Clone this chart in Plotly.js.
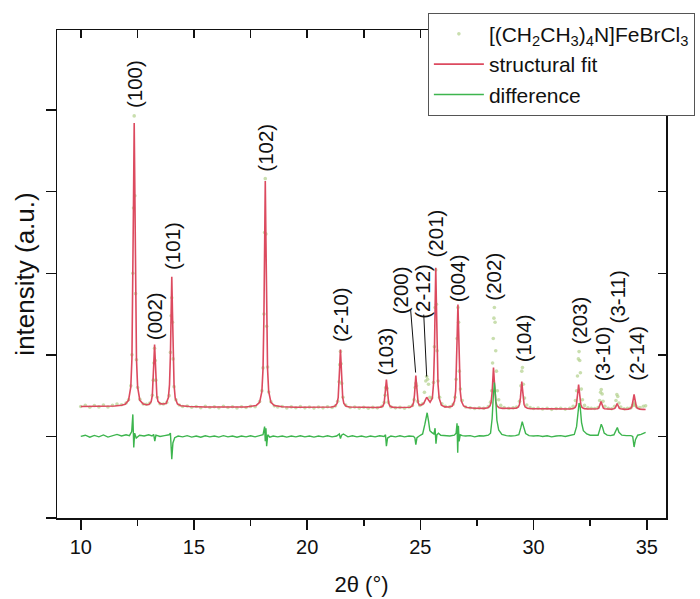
<!DOCTYPE html>
<html>
<head>
<meta charset="utf-8">
<script src="https://cdn.plot.ly/plotly-3.0.1.min.js"></script>
<style>html,body{margin:0;padding:0;background:#fff;}#chart{width:700px;height:599px;}</style>
</head>
<body>
<div id="chart"></div>
<script>
// ---- data (2theta in degrees, intensity in arbitrary units) ----
const seriesNames = ['[(CH<sub>2</sub>CH<sub>3</sub>)<sub>4</sub>N]FeBrCl<sub>3</sub>', 'structural fit', 'difference'];

const obsPoints = [
[10.0,367],[10.2,382],[10.4,357],[10.6,379],[10.8,362],[11.0,386],[11.2,361],[11.4,380],[11.6,398],[11.8,388],
[12.0,410],[12.11,450],[12.21,620],[12.26,1000],[12.3,2000],[12.33,2800],[12.36,3929],[12.39,2950],[12.42,1750],[12.46,940],[12.51,600],[12.61,455],[12.76,398],
[12.9,395],[13.05,410],[13.16,505],[13.2,690],[13.23,900],[13.26,1080],[13.29,930],[13.32,690],[13.38,480],[13.5,400],[13.65,398],
[13.8,415],[13.9,500],[13.96,1030],[13.99,1480],[14.02,1700],[14.05,1400],[14.08,950],[14.12,610],[14.2,450],[14.35,385],
[14.5,366],[14.7,372],[14.9,358],[15.1,366],[15.3,352],[15.5,368],[15.7,355],[15.9,364],[16.1,350],[16.3,369],[16.5,354],[16.7,363],[16.9,349],[17.1,364],[17.3,355],[17.5,368],[17.7,365],[17.9,428],
[18.0,560],[18.05,840],[18.09,1500],[18.12,2500],[18.15,3160],[18.18,2480],[18.21,1350],[18.25,850],[18.3,545],[18.4,425],[18.55,375],
[18.7,360],[18.9,367],[19.1,349],[19.3,362],[19.5,352],[19.7,365],[19.9,350],[20.1,360],[20.3,347],[20.5,360],[20.7,350],[20.9,363],[21.1,355],[21.25,375],
[21.35,430],[21.41,670],[21.44,880],[21.47,1040],[21.5,890],[21.53,650],[21.58,480],[21.7,385],
[21.9,355],[22.1,360],[22.3,347],[22.5,358],[22.7,345],[22.9,356],[23.1,350],[23.3,368],
[23.4,415],[23.44,505],[23.47,600],[23.5,580],[23.53,590],[23.58,420],[23.7,362],
[23.9,350],[24.1,356],[24.3,345],[24.5,362],
[24.65,380],[24.72,450],[24.77,600],[24.8,650],[24.83,620],[24.88,430],[24.98,380],
[25.1,400],[25.18,540],[25.24,680],[25.28,734],[25.32,700],[25.36,640],[25.42,480],[25.5,470],
[25.58,660],[25.62,1100],[25.65,1580],[25.68,2040],[25.71,1620],[25.74,1050],[25.78,680],[25.85,480],[25.95,400],
[26.1,370],[26.3,362],[26.45,395],
[26.53,480],[26.58,700],[26.62,1200],[26.66,1580],[26.69,1400],[26.72,800],[26.77,580],[26.85,440],
[27.0,360],[27.2,352],[27.4,342],[27.6,350],[27.8,345],[28.0,365],
[28.1,420],[28.15,560],[28.19,900],[28.22,1200],[28.25,1450],[28.27,1580],[28.3,1400],[28.33,1050],[28.36,800],[28.4,560],[28.46,450],[28.55,380],
[28.7,355],[28.9,345],[29.1,350],[29.25,360],
[29.38,430],[29.44,620],[29.48,800],[29.51,845],[29.55,640],[29.6,470],[29.7,385],
[29.85,355],[30.0,342],[30.2,348],[30.4,336],[30.6,345],[30.8,332],[31.0,342],[31.2,345],[31.4,335],[31.6,345],[31.75,370],
[31.85,440],[31.9,560],[31.94,740],[31.98,950],[32.01,1040],[32.04,930],[32.07,780],[32.11,580],[32.16,450],[32.25,380],
[32.4,350],[32.55,345],[32.7,342],[32.85,355],
[32.92,440],[32.96,540],[32.99,575],[33.03,520],[33.07,430],[33.15,370],
[33.3,345],[33.45,340],[33.58,370],
[33.64,440],[33.68,514],[33.72,490],[33.77,410],[33.85,360],
[34.0,340],[34.15,345],[34.3,350],
[34.38,380],[34.42,390],[34.46,410],[34.5,380],[34.56,360],[34.7,355],[34.85,370],[34.95,375]
];

const fitCurve = [
[10.0,367],[10.5,367],[11.0,368],[11.5,373],[11.8,383],
[11.96,393],[12.11,442],[12.21,608],[12.26,956],[12.30,1756],[12.33,2904],[12.36,3843],[12.39,2904],[12.42,1756],[12.46,956],[12.51,608],[12.61,442],[12.76,396],
[12.9,388],[13.01,392],[13.11,425],[13.16,500],[13.20,672],[13.23,922],[13.26,1126],[13.29,922],[13.32,672],[13.36,500],[13.41,430],[13.51,402],[13.62,398],
[13.77,404],[13.87,476],[13.92,635],[13.96,1000],[13.99,1527],[14.02,1958],[14.05,1527],[14.08,1000],[14.12,633],[14.17,474],[14.27,397],[14.42,375],
[14.8,366],[15.5,361],[16.5,359],[17.3,361],
[17.75,380],[17.9,418],[18.0,551],[18.05,828],[18.09,1466],[18.12,2381],[18.15,3130],[18.18,2381],[18.21,1466],[18.25,828],[18.3,551],[18.4,418],[18.55,379],
[18.9,363],[19.5,357],[20.3,355],
[21.07,360],[21.22,370],[21.32,404],[21.37,475],[21.41,638],[21.44,873],[21.47,1065],[21.50,873],[21.53,638],[21.57,475],[21.62,404],[21.72,370],[21.87,360],
[22.5,353],
[23.1,354],[23.25,359],[23.35,375],[23.4,410],[23.44,490],[23.47,604],[23.5,698],[23.53,604],[23.56,490],[23.6,410],[23.65,375],[23.75,359],[23.9,354],
[24.4,352],[24.55,357],[24.65,376],[24.7,416],[24.74,508],[24.77,639],[24.8,747],[24.83,639],[24.86,508],[24.9,416],[24.95,385],[25.05,385],
[25.15,405],[25.22,440],[25.28,480],[25.34,455],[25.43,420],
[25.53,470],[25.58,640],[25.62,1036],[25.65,1604],[25.68,2069],[25.71,1604],[25.74,1036],[25.78,640],[25.83,469],[25.93,384],[26.08,362],
[26.26,361],[26.41,373],[26.51,434],[26.56,561],[26.60,853],[26.63,1273],[26.66,1616],[26.69,1273],[26.72,853],[26.76,561],[26.81,434],[26.91,373],[27.06,355],
[27.4,345],
[27.83,344],[27.98,351],[28.08,375],[28.13,426],[28.17,542],[28.20,709],[28.23,845],[28.26,709],[28.29,542],[28.33,426],[28.38,375],[28.48,351],[28.63,344],
[29.08,341],[29.23,345],[29.33,361],[29.38,395],[29.42,472],[29.45,583],[29.48,673],[29.51,583],[29.54,472],[29.58,395],[29.63,361],[29.73,345],[29.88,341],
[30.5,337],[31.2,335],
[31.59,336],[31.74,341],[31.84,355],[31.89,385],[31.93,455],[31.96,554],[31.99,636],[32.02,554],[32.05,455],[32.09,385],[32.14,355],[32.24,341],[32.39,336],
[32.68,334],[32.83,340],[32.88,349],[32.92,371],[32.95,402],[32.98,428],[33.01,402],[33.04,371],[33.08,349],[33.13,340],[33.23,335],
[33.44,333],[33.54,339],[33.59,344],[33.63,361],[33.66,385],[33.69,404],[33.72,385],[33.75,361],[33.79,344],[33.84,339],[33.94,334],
[34.04,332],[34.19,335],[34.29,344],[34.34,362],[34.38,404],[34.41,465],[34.44,514],[34.47,465],[34.50,404],[34.54,362],[34.59,344],[34.69,335],[34.84,332],[34.95,330]
];

const diffCurve = [
[10.0,0],[10.2,15],[10.4,-10],[10.6,12],[10.8,-5],[11.0,18],[11.2,-8],[11.4,10],[11.6,25],[11.8,5],[12.0,20],[12.15,10],[12.25,60],
[12.3,270],[12.34,-135],[12.38,40],[12.45,-20],[12.6,15],[12.8,5],[13.0,20],[13.15,5],[13.22,25],[13.27,-57],[13.32,15],[13.5,0],[13.7,10],[13.9,20],[13.96,40],
[14.02,-280],[14.07,-80],[14.15,-15],[14.3,5],[14.5,-5],[14.7,10],[14.9,-8],[15.1,5],[15.3,-10],[15.5,8],[15.7,-5],[15.9,5],[16.1,-8],[16.3,10],[16.5,-5],[16.7,5],[16.9,-10],
[17.1,5],[17.3,-5],[17.5,8],[17.7,-5],[17.9,10],[18.05,20],[18.12,120],[18.15,-60],[18.18,100],[18.21,-120],[18.26,20],[18.35,-10],[18.5,5],[18.7,-5],[18.9,5],
[19.1,-8],[19.3,5],[19.5,-5],[19.7,8],[19.9,-5],[20.1,5],[20.3,-8],[20.5,5],[20.7,-5],[20.9,8],[21.1,-5],[21.3,5],[21.42,30],[21.47,-25],[21.52,15],[21.6,30],[21.8,-5],
[22.0,8],[22.2,-5],[22.4,5],[22.6,-8],[22.8,5],[23.0,-5],[23.2,8],[23.4,0],[23.46,20],[23.5,-120],[23.55,-20],[23.7,5],[23.9,-5],[24.1,8],[24.3,-5],[24.5,5],[24.7,0],
[24.76,-20],[24.8,-100],[24.85,-15],[24.95,5],[25.1,30],[25.2,150],[25.26,260],[25.3,290],[25.36,190],[25.42,70],[25.5,50],[25.6,30],[25.65,100],[25.69,-90],[25.73,20],
[25.8,40],[25.9,15],[26.1,10],[26.3,5],[26.5,15],[26.58,40],[26.62,160],[26.65,-200],[26.68,130],[26.71,-60],[26.76,20],[26.85,10],[27.0,5],[27.2,10],[27.4,-5],[27.6,8],
[27.8,5],[28.0,15],[28.1,40],[28.17,220],[28.22,480],[28.27,660],[28.32,500],[28.38,200],[28.46,80],[28.6,25],[28.8,10],[29.0,5],[29.2,10],[29.35,20],[29.44,110],
[29.5,180],[29.56,120],[29.65,35],[29.8,10],[30.0,5],[30.2,10],[30.4,0],[30.6,8],[30.8,-5],[31.0,5],[31.2,10],[31.4,0],[31.6,10],[31.8,25],[31.9,120],[31.96,330],
[32.01,410],[32.06,360],[32.12,170],[32.2,70],[32.35,30],[32.5,15],[32.7,10],[32.85,15],[32.93,90],[32.99,150],[33.05,110],[33.12,40],[33.25,15],[33.4,10],[33.55,20],
[33.65,80],[33.7,110],[33.77,50],[33.9,15],[34.1,10],[34.3,10],[34.38,0],[34.44,-130],[34.5,-40],[34.6,15],[34.75,25],[34.9,45],[34.95,50]
];

const peakLabels = ['(100)','(002)','(101)','(102)','(2-10)','(103)','(200)','(2-12)','(201)','(004)','(202)','(104)','(203)','(3-10)','(3-11)','(2-14)'];
const labelX = [12.4, 13.26, 14.02, 18.15, 21.47, 23.48, 24.13, 25.08, 25.68, 26.65, 28.25, 29.57, 32.05, 33.05, 33.72, 34.53];
const labelY = [4321, 1469, 2332, 3543, 1493, 1040, 1787, 1775, 2485, 1934, 1958, 1200, 1420, 1016, 1714, 1016];

// leader lines for (200) and (2-12)
const leaderX0 = [24.57, 25.15];
const leaderY0 = [1554, 1493];
const leaderX1 = [24.79, 25.28];
const leaderY1 = [783, 734];

const xTicks = [10, 15, 20, 25, 30, 35];
const xRange = [8.95, 35.85];
const yRange = [-1000, 4982];

// ---- build the chart ----
const FONT = 'Liberation Sans, Arial, Helvetica, sans-serif';
const INK = '#111111';

const traces = [
  {
    x: obsPoints.map(p => p[0]), y: obsPoints.map(p => p[1]),
    type: 'scatter', mode: 'markers', name: seriesNames[0],
    marker: {size: 3.6, color: 'rgba(178,208,140,0.7)'},
    hoverinfo: 'skip'
  },
  {
    x: fitCurve.map(p => p[0]), y: fitCurve.map(p => p[1]),
    type: 'scatter', mode: 'lines', name: seriesNames[1],
    line: {color: '#dc4a5f', width: 1.6},
    hoverinfo: 'skip'
  },
  {
    x: diffCurve.map(p => p[0]), y: diffCurve.map(p => p[1]),
    type: 'scatter', mode: 'lines', name: seriesNames[2],
    line: {color: '#3db54e', width: 1.4},
    hoverinfo: 'skip'
  },
  { x: [], y: [], xaxis: 'x2', yaxis: 'y2', type: 'scatter', showlegend: false, hoverinfo: 'skip' }
];

const annotations = peakLabels.map((t, i) => ({
  x: labelX[i], y: labelY[i], xref: 'x', yref: 'y',
  text: t, showarrow: false, textangle: -90,
  xanchor: 'center', yanchor: 'middle',
  font: {family: FONT, size: 20.5, color: INK}
}));

const shapes = leaderX0.map((x0, i) => ({
  type: 'line', xref: 'x', yref: 'y',
  x0: x0, y0: leaderY0[i], x1: leaderX1[i], y1: leaderY1[i],
  line: {color: INK, width: 1}
}));

const layout = {
  width: 700, height: 599,
  margin: {l: 57, r: 34, t: 30, b: 81, autoexpand: false},
  paper_bgcolor: '#ffffff', plot_bgcolor: '#ffffff',
  font: {family: FONT, color: INK},
  showlegend: true,
  legend: {
    x: 0.609, y: 1.0355, xanchor: 'left', yanchor: 'top',
    bgcolor: '#ffffff', bordercolor: '#555555', borderwidth: 1,
    font: {family: FONT, size: 21, color: INK},
    itemwidth: 50, tracegroupgap: 0
  },
  xaxis: {
    range: xRange, tickvals: xTicks, ticktext: xTicks.map(String),
    ticks: 'outside', ticklen: 10, tickwidth: 1.5, tickcolor: INK,
    minor: {dtick: 2.5, tick0: 10, ticks: 'outside', ticklen: 6, tickwidth: 1.5, tickcolor: INK, showgrid: false},
    showline: true, linewidth: 1.5, linecolor: INK, mirror: false,
    showgrid: false, zeroline: false,
    tickfont: {family: FONT, size: 20, color: INK},
    title: {text: '2θ (°)', font: {family: FONT, size: 22, color: INK}, standoff: 20},
    automargin: false
  },
  yaxis: {
    range: yRange, tick0: 0, dtick: 1000,
    ticks: 'outside', ticklen: 10, tickwidth: 1.5, tickcolor: INK,
    showticklabels: false,
    showline: true, linewidth: 1.5, linecolor: INK,
    showgrid: false, zeroline: false,
    title: {text: 'intensity (a.u.)', font: {family: FONT, size: 26, color: INK}, standoff: 3},
    automargin: false
  },
  xaxis2: {
    overlaying: 'x', side: 'top', anchor: 'y2', range: xRange,
    tickvals: xTicks, ticks: 'inside', ticklen: 8, tickwidth: 1.5, tickcolor: INK,
    minor: {dtick: 2.5, tick0: 10, ticks: 'inside', ticklen: 8, tickwidth: 1.5, tickcolor: INK, showgrid: false},
    showticklabels: false, showline: true, linewidth: 1.5, linecolor: INK,
    showgrid: false, zeroline: false, automargin: false
  },
  yaxis2: {
    overlaying: 'y', side: 'right', anchor: 'x2', range: yRange, tick0: 0, dtick: 1000,
    ticks: 'inside', ticklen: 8, tickwidth: 1.5, tickcolor: INK,
    showticklabels: false, showline: true, linewidth: 1.5, linecolor: INK,
    showgrid: false, zeroline: false, automargin: false
  },
  annotations: annotations,
  shapes: shapes
};

Plotly.newPlot('chart', traces, layout, {displayModeBar: false, staticPlot: true});
</script>
</body>
</html>
